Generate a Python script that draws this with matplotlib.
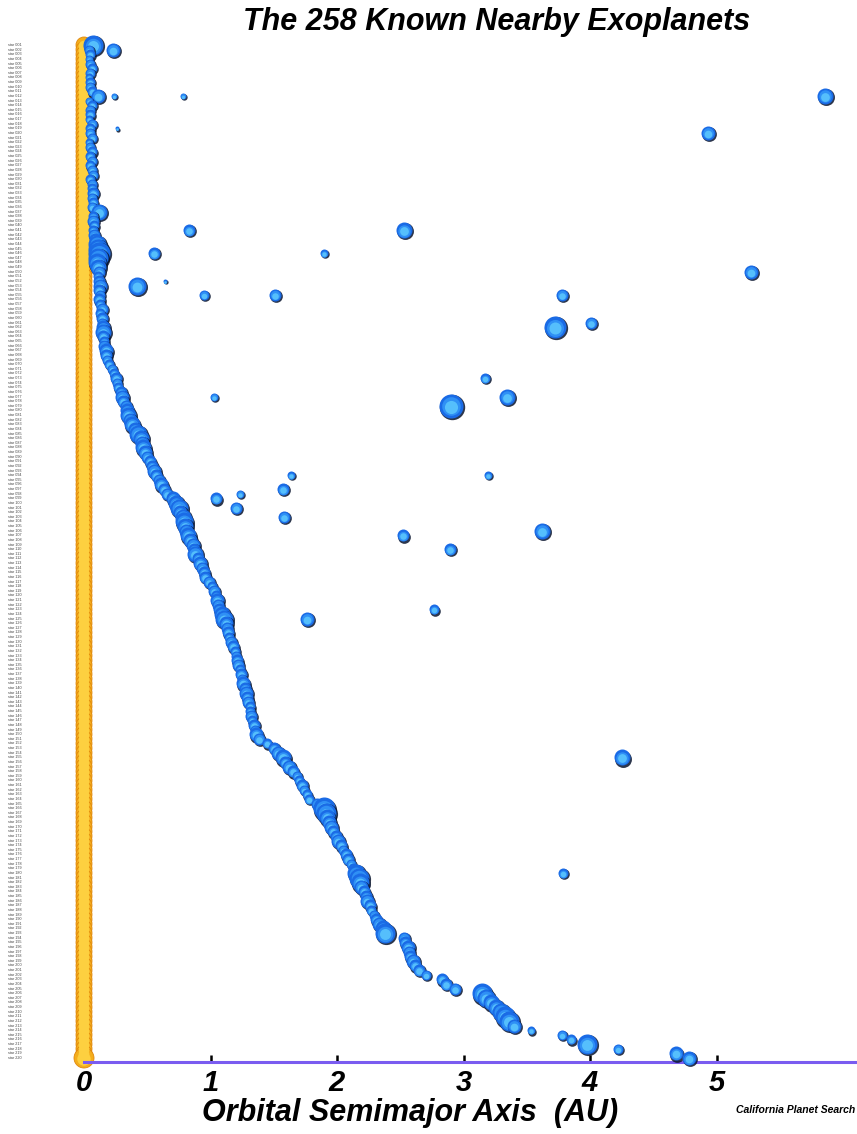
import numpy as np
import matplotlib
matplotlib.use("Agg")
import matplotlib.pyplot as plt
import matplotlib.transforms as mtransforms

FONT = ["Liberation Sans Narrow", "Liberation Sans", "DejaVu Sans"]

# innermost planet of each system, systems sorted top to bottom (AU)
inner_a = [
    0.07,
    0.04, 0.05, 0.04, 0.05, 0.06, 0.05, 0.04, 0.05, 0.05, 0.06,
    0.11, 0.04, 0.06, 0.05, 0.05, 0.04, 0.06, 0.05, 0.05, 0.06,
    0.04, 0.05, 0.06, 0.05, 0.06, 0.05, 0.06, 0.07, 0.05, 0.06,
    0.06, 0.07, 0.06, 0.07, 0.06, 0.12, 0.07, 0.07, 0.08, 0.07,
    0.08, 0.09,
    0.10, 0.11, 0.12, 0.11, 0.10, 0.11, 0.12, 0.11, 0.12, 0.13,
    0.12, 0.13, 0.12, 0.13, 0.14, 0.13, 0.14, 0.14, 0.15, 0.15,
    0.15, 0.16, 0.16, 0.17, 0.17, 0.18, 0.20,
    0.22, 0.24, 0.25, 0.26, 0.27, 0.29, 0.30, 0.31, 0.33, 0.34, 0.35, 0.36, 0.38,
    0.40, 0.43, 0.45, 0.46, 0.47, 0.48, 0.50, 0.52, 0.54, 0.55,
    0.57, 0.59, 0.61, 0.63, 0.66, 0.70, 0.73, 0.75, 0.76, 0.78,
    0.79, 0.80, 0.81, 0.82, 0.84, 0.86, 0.87, 0.88, 0.90, 0.92, 0.93, 0.95, 0.96,
    0.99, 1.01, 1.03, 1.04, 1.05, 1.06, 1.07, 1.09, 1.11, 1.12, 1.13, 1.14, 1.15, 1.16, 1.18,
    1.19, 1.20, 1.21, 1.22, 1.23, 1.24, 1.25, 1.26, 1.27, 1.28,
    1.29, 1.30, 1.31, 1.31, 1.32, 1.33, 1.34, 1.35, 1.36, 1.38,
    1.45, 1.50, 1.53, 1.57, 1.59, 1.62, 1.65, 1.68, 1.70, 1.72, 1.74, 1.76, 1.78, 1.84,
    1.90, 1.91, 1.92, 1.94, 1.95, 1.97, 1.99, 2.01, 2.03, 2.05, 2.07, 2.09, 2.11, 2.13, 2.15, 2.17,
    2.18, 2.19, 2.21, 2.23, 2.24, 2.26, 2.27, 2.29, 2.31, 2.33, 2.36, 2.38,
    2.53, 2.54, 2.56, 2.57, 2.58, 2.60, 2.62, 2.65, 2.70, 2.83, 2.86, 2.93,
    3.15, 3.18, 3.22, 3.26, 3.30, 3.33, 3.36, 3.40, 3.53, 3.78, 3.85, 3.98, 4.22, 4.68, 4.78,
]
# apparent planet radius (px), same order
inner_r = [
    10,
    5, 5, 4, 5, 5, 5, 4, 5, 5, 5,
    7, 4, 5, 5, 5, 4, 5, 5, 5, 5,
    4, 5, 5, 5, 5, 5, 5, 5, 5, 5,
    5, 6, 5, 5, 5, 8, 5, 6, 5, 5,
    6, 6,
    9, 10, 11, 10, 9, 8, 6, 5, 6, 7,
    6, 5, 6, 5, 6, 5, 6, 5, 7, 8,
    6, 5, 6, 7, 6, 5, 5,
    5, 5, 6, 5, 5, 6, 7, 6, 6, 7, 8, 7, 8,
    7, 9, 8, 7, 8, 7, 6, 6, 6, 7,
    6, 6, 7, 6, 6, 7, 8, 9, 7, 8,
    9, 8, 7, 8, 7, 7, 6, 8, 6, 7, 6, 6, 6,
    6, 5, 6, 5, 7, 6, 6, 8, 9, 7, 6, 6, 5, 6, 6,
    5, 5, 6, 6, 5, 6, 5, 7, 6, 7,
    6, 6, 5, 5, 6, 5, 6, 5, 7, 6,
    5, 6, 7, 8, 6, 7, 6, 5, 5, 6, 5, 5, 5, 6,
    11, 10, 8, 7, 7, 6, 6, 7, 6, 5, 6, 6, 5, 5, 9, 10,
    9, 7, 6, 6, 7, 6, 5, 5, 6, 7, 8, 10,
    6, 6, 7, 6, 6, 7, 6, 6, 5, 6, 6, 6,
    10, 9, 8, 8, 9, 10, 10, 7, 4, 5, 5, 10, 5, 7, 7,
]

# additional planets in multi-planet systems
outer_a = [0.23, 0.24, 0.78, 5.86, 0.26, 4.93, 0.83, 2.53, 0.55, 1.90,
           5.27, 0.64, 0.42, 0.95, 1.51, 3.78, 4.01, 3.72, 3.17, 1.03,
           3.34, 2.90, 1.64, 3.19, 1.57, 1.23, 1.04, 1.20, 1.58, 3.62,
           2.52, 2.89, 2.77, 1.76, 4.25, 3.79]
outer_row = [1, 11, 11, 11, 18, 19, 40, 40, 45, 45,
             49, 51, 52, 54, 54, 54, 60, 61, 72, 76,
             76, 78, 93, 93, 96, 97, 98, 100, 102, 105,
             106, 109, 122, 124, 154, 179]
outer_r = [7, 3, 3, 8, 2, 7, 6, 8, 6, 4,
           7, 2, 9, 5, 6, 6, 6, 11, 5, 4,
           8, 12, 4, 4, 6, 4, 6, 6, 6, 8,
           6, 6, 5, 7, 8, 5]

n_rows = len(inner_a)
rows = np.arange(n_rows)
star_labels = [f"star {k + 1:03d}" for k in range(n_rows)]
star_r = [8] * (n_rows - 1) + [10]
x_ticks = [0, 1, 2, 3, 4, 5]

W, H = 857, 1134
fig = plt.figure(figsize=(W / 100, H / 100), dpi=100)
ax_left, ax_right, ax_top, ax_bot = 84, 855, 30, 1062
ax = fig.add_axes([ax_left / W, 1 - ax_bot / H, (ax_right - ax_left) / W, (ax_bot - ax_top) / H])

px_per_au = 126.5
pitch = (1058 - 45) / (n_rows - 1)
ax.set_xlim(0, (ax_right - ax_left) / px_per_au)
ax.set_ylim(n_rows - 1 + (ax_bot - 1058) / pitch, -(45 - ax_top) / pitch)


def pts2(r_px):
    return (np.asarray(r_px, dtype=float) * 2 * 0.72) ** 2


def shifted(dx, dy):
    return mtransforms.offset_copy(ax.transData, fig=fig, x=dx, y=dy, units="dots")


shadow_tf = shifted(1.0, -1.3)
mid_tf = shifted(0, -0.6)
low_tf = shifted(0, -1.0)


def draw_sphere(x, y, r, z):
    s = pts2(r)
    kw = dict(lw=0, clip_on=False)
    ax.scatter([x], [y], s=s * 1.12, color="#08142e", alpha=0.85, transform=shadow_tf, zorder=z, **kw)
    ax.scatter([x], [y], s=s, color="#1a6be6", zorder=z + 0.0001, **kw)
    ax.scatter([x], [y], s=s * 0.6, color="#2f90f5", transform=mid_tf, zorder=z + 0.0002, **kw)
    ax.scatter([x], [y], s=s * 0.3, color="#55bffc", transform=low_tf, zorder=z + 0.0003, **kw)


# host stars
s_star = pts2(star_r)
ax.scatter(np.zeros(n_rows), rows, s=s_star, color="#f4ae1c", edgecolors="#e0870c",
           linewidths=0.6, zorder=2, clip_on=False)
ax.scatter(np.zeros(n_rows), rows, s=s_star * 0.45, color="#fdd040", lw=0,
           transform=shifted(0, -1), zorder=2.1, clip_on=False)

# planets, drawn row by row so each sphere sits over the one above it
for k, (a, r) in enumerate(zip(inner_a, inner_r)):
    draw_sphere(a, k, r, 3 + k * 0.001)
for a, row, r in zip(outer_a, outer_row, outer_r):
    draw_sphere(a, row, r, 3 + row * 0.001 + 0.0005)

# row labels at the far left
lab_tf = mtransforms.blended_transform_factory(fig.transFigure, ax.transData)
for k, name in enumerate(star_labels):
    ax.text(8 / W, k, name, transform=lab_tf, fontsize=2.7, color="#444444",
            va="center", ha="left", family=FONT, clip_on=False)

# axis styling
for side in ["top", "right", "left"]:
    ax.spines[side].set_visible(False)
ax.spines["bottom"].set_color("#7a5cf0")
ax.spines["bottom"].set_linewidth(2.2)
ax.set_yticks([])
ax.set_xticks(x_ticks)
ax.tick_params(axis="x", direction="in", length=5, width=1.8, color="black", pad=5)
for lbl in ax.get_xticklabels():
    lbl.set_fontfamily(FONT)
    lbl.set_fontsize(21)
    lbl.set_fontweight("bold")
    lbl.set_fontstyle("italic")

fig.text(497 / W, 1 - 22 / H, "The 258 Known Nearby Exoplanets", ha="center", va="center",
         fontsize=22, fontweight="bold", fontstyle="italic", family=FONT)
fig.text(410 / W, 1 - 1113 / H, "Orbital Semimajor Axis  (AU)", ha="center", va="center",
         fontsize=22, fontweight="bold", fontstyle="italic", family=FONT)
fig.text(855 / W, 1 - 1110 / H, "California Planet Search", ha="right", va="center",
         fontsize=7.5, fontweight="bold", fontstyle="italic", family=FONT)

fig.savefig("out.png", dpi=100, facecolor="white")
